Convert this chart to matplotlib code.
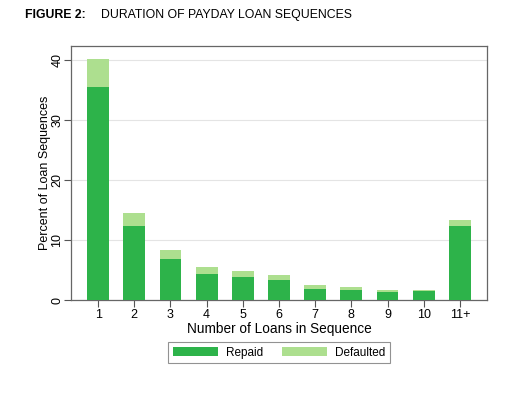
import matplotlib
matplotlib.use("Agg")
import matplotlib.pyplot as plt
import numpy as np

plt.rcParams['font.family'] = ['Liberation Sans', 'DejaVu Sans']

categories = ["1", "2", "3", "4", "5", "6", "7", "8", "9", "10", "11+"]
repaid = [35.4, 12.3, 6.8, 4.4, 3.8, 3.4, 1.9, 1.7, 1.4, 1.5, 12.4]
total = [40.2, 14.5, 8.3, 5.5, 4.8, 4.1, 2.45, 2.2, 1.7, 1.7, 13.4]
defaulted = [t - r for t, r in zip(total, repaid)]
yticks = [0, 10, 20, 30, 40]

c_rep = "#2db34a"
c_def = "#addf8f"

fig = plt.figure(figsize=(5.12, 3.93), dpi=100)
W, H = 512, 393
ax = fig.add_axes([71 / W, 1 - 300 / H, (487 - 71) / W, (300 - 46) / H])

x = np.arange(1, len(categories) + 1)
ax.bar(x, repaid, width=0.6, color=c_rep, label="Repaid", zorder=3)
ax.bar(x, defaulted, width=0.6, bottom=repaid, color=c_def, label="Defaulted", zorder=3)

ax.set_xlim(0.25, 11.75)
ax.set_ylim(0, 42.3)
ax.set_xticks(x)
ax.set_xticklabels(categories, fontsize=9)
ax.set_yticks(yticks)
ax.set_yticklabels([str(v) for v in yticks], fontsize=9, rotation=90, va="center")
ax.tick_params(axis="both", direction="out", length=5, color="#555555", width=0.8)
ax.tick_params(axis="x", pad=1.5)
ax.tick_params(axis="y", pad=0.5)
ax.yaxis.grid(True, color="#e4e4e4", linewidth=0.8, zorder=0)
ax.set_axisbelow(True)
for s in ax.spines.values():
    s.set_color("#666666")
    s.set_linewidth(0.9)

ax.set_xlabel("Number of Loans in Sequence", fontsize=9.8, labelpad=1)
ax.set_ylabel("Percent of Loan Sequences", fontsize=9, labelpad=0)

leg = ax.legend(loc="upper center", bbox_to_anchor=(0.5, -0.165), ncol=2, frameon=True,
                fancybox=False, edgecolor="#777777", fontsize=8.5, handlelength=3.8,
                handleheight=0.8, handletextpad=0.7, columnspacing=1.6, borderpad=0.4,
                borderaxespad=0)
leg.get_frame().set_linewidth(0.8)

fig.text(25 / W, 1 - 15 / H, "FIGURE 2:", fontsize=8.8, fontweight="bold", va="center", ha="left")
fig.text(101 / W, 1 - 15 / H, "DURATION OF PAYDAY LOAN SEQUENCES", fontsize=8.8, va="center", ha="left")

fig.savefig("out.png", dpi=100)
